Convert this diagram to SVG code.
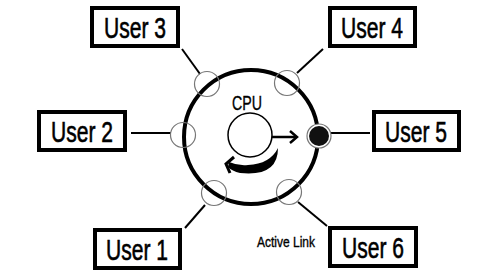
<svg xmlns="http://www.w3.org/2000/svg" width="500" height="275" viewBox="0 0 500 275">
<style>
.box{fill:#fff;stroke:#000;stroke-width:4}
.lbl{font-family:"Liberation Sans",Arial,sans-serif;font-size:30px;fill:#000;stroke:#000;stroke-width:0.6;text-anchor:middle}
.sm{font-family:"Liberation Sans",Arial,sans-serif;fill:#000;stroke:#000;stroke-width:0.35;text-anchor:middle}
.ln{stroke:#000;stroke-width:2;fill:none}
.port{fill:none;stroke:#777;stroke-width:1.2}
</style>
<rect width="500" height="275" fill="#fff"/>
<g id="connectors">
<line class="ln" x1="182" y1="49" x2="200" y2="74"/>
<line class="ln" x1="323" y1="49" x2="297" y2="73"/>
<line class="ln" x1="131" y1="133" x2="171" y2="133"/>
<line class="ln" x1="331" y1="133" x2="370" y2="133"/>
<line class="ln" x1="205" y1="205" x2="185" y2="228"/>
<line class="ln" x1="298" y1="202" x2="327" y2="226"/>
</g>
<g id="cpu">
<circle cx="251" cy="137" r="67" fill="none" stroke="#000" stroke-width="4"/>
<text class="sm" x="247" y="110" font-size="20" textLength="30" lengthAdjust="spacingAndGlyphs">CPU</text>
<circle cx="250" cy="135" r="22" fill="none" stroke="#000" stroke-width="1.5"/>
<line x1="272" y1="137" x2="296" y2="137" stroke="#000" stroke-width="2.5"/>
<polyline points="290,131 297,137 290,143" fill="none" stroke="#000" stroke-width="2.5"/>
<path d="M278,148 Q278,177 240,173 Q232,171 228,167 L229,162 Q238,166 248,165 Q270,164 278,148 Z" fill="#000"/>
<polyline points="234,157 226,164 230,173" fill="none" stroke="#000" stroke-width="3"/>
</g>
<g id="ports">
<circle class="port" cx="207" cy="84" r="12.5"/>
<circle class="port" cx="287" cy="83" r="12.5"/>
<circle class="port" cx="183" cy="135" r="12.5"/>
<circle class="port" cx="214" cy="193" r="12.5"/>
<circle class="port" cx="289" cy="192" r="12.5"/>
<circle cx="319" cy="136" r="12" fill="#fff" stroke="#777" stroke-width="1.2"/>
<circle cx="319" cy="136" r="10" fill="#111"/>
</g>
<g id="user3"><rect class="box" x="92" y="8" width="86" height="38"/><text class="lbl" x="135" y="38" textLength="62" lengthAdjust="spacingAndGlyphs">User 3</text></g>
<g id="user4"><rect class="box" x="330" y="8" width="85" height="38"/><text class="lbl" x="372" y="38" textLength="62" lengthAdjust="spacingAndGlyphs">User 4</text></g>
<g id="user2"><rect class="box" x="39" y="112" width="86" height="38"/><text class="lbl" x="82" y="142" textLength="62" lengthAdjust="spacingAndGlyphs">User 2</text></g>
<g id="user5"><rect class="box" x="374" y="112" width="85" height="38"/><text class="lbl" x="416" y="142" textLength="62" lengthAdjust="spacingAndGlyphs">User 5</text></g>
<g id="user1"><rect class="box" x="95" y="230" width="85" height="38"/><text class="lbl" x="137" y="260" textLength="62" lengthAdjust="spacingAndGlyphs">User 1</text></g>
<g id="user6"><rect class="box" x="330" y="228" width="86" height="38"/><text class="lbl" x="373" y="258" textLength="62" lengthAdjust="spacingAndGlyphs">User 6</text></g>
<text class="sm" x="286" y="247" font-size="14" textLength="58" lengthAdjust="spacingAndGlyphs">Active Link</text>
</svg>
